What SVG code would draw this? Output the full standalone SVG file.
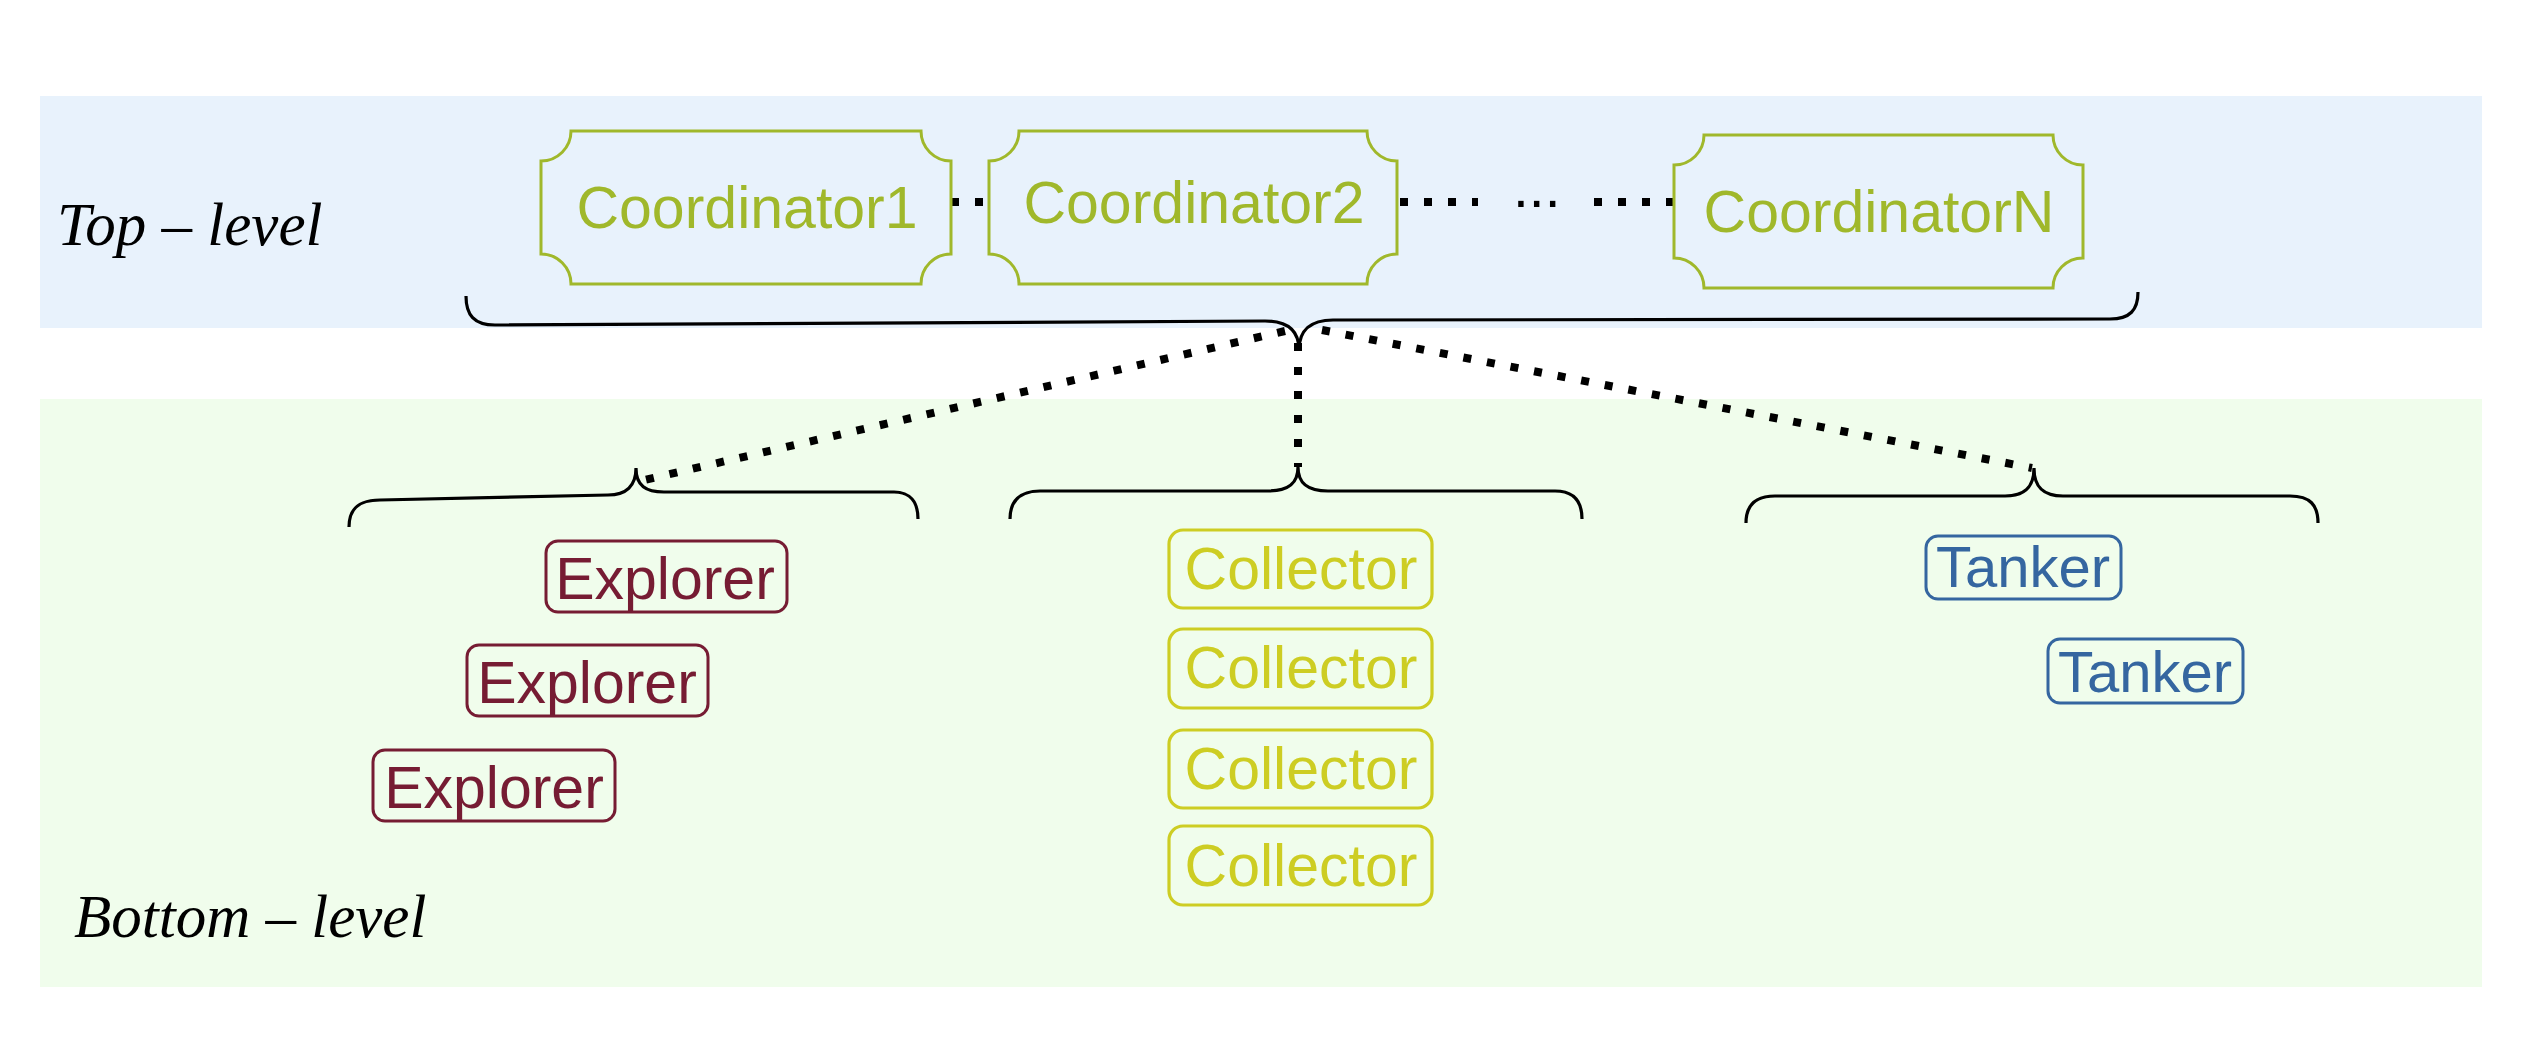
<svg xmlns="http://www.w3.org/2000/svg" width="2524" height="1040" viewBox="0 0 2524 1040">
<style>
.lvl{font-family:"Liberation Serif","DejaVu Serif",serif;font-style:italic;font-size:61px;fill:#000}
.nt{font-family:"Liberation Sans",Arial,sans-serif;font-size:59px;text-anchor:middle}
.coord{fill:none;stroke:#a0b82b;stroke-width:3}
.coordt{fill:#a0b82b}
.exp{fill:none;stroke:#761c33;stroke-width:3}
.expt{fill:#761c33}
.col{fill:none;stroke:#cdcd23;stroke-width:3.2}
.colt{fill:#cdcd23}
.tan{fill:none;stroke:#3566a0;stroke-width:3}
.tant{fill:#3566a0;font-size:58px}
.brace{fill:none;stroke:#000;stroke-width:3.2;stroke-linecap:butt}
.dot{fill:none;stroke:#000;stroke-width:8;stroke-dasharray:8 16}
</style>
<rect x="0" y="0" width="2524" height="1040" fill="#fff"/>
<g id="band-top"><rect x="40" y="96" width="2442" height="232" fill="#e8f2fc"/>
<text class="lvl" x="57" y="245">Top – level</text></g>
<g id="band-bottom"><rect x="40" y="399" width="2442" height="588" fill="#f0fdec"/>
<text class="lvl" x="74" y="937">Bottom – level</text></g>

<g id="connectors">
<path class="dot" d="M951 202 H989"/>
<path class="dot" d="M1400 202 H1478"/>
<path class="dot" d="M1594 202 H1674"/>
<path class="dot" d="M1285 331 L640 481"/>
<path class="dot" d="M1298 343 V467"/>
<path class="dot" d="M1322 330 L2032 468"/>
<text x="1513" y="207" font-family="Liberation Sans, Arial, sans-serif" font-size="57" fill="#000">...</text>
<path class="brace" d="M466 296 C466 315 474 325 495 325 L1265 321 C1287 321 1299 330 1299 350 M1299 350 C1299 330 1311 320 1333 320 L2110 319 C2130 319 2138 310 2138 292"/>
<path class="brace" d="M349 527 C349 509 358 500 380 500 L608 495 C626 495 636 486 636 468 C636 486 646 492 664 492 L894 492 C910 492 918 502 918 519"/>
<path class="brace" d="M1010 519 C1010 501 1020 491 1040 491 L1268 491 C1288 491 1298 484 1298 467 C1298 484 1308 491 1328 491 L1555 491 C1574 491 1582 501 1582 519"/>
<path class="brace" d="M1746 523 C1746 505 1756 496 1775 496 L2005 496 C2024 496 2034 488 2034 468 C2034 488 2044 496 2063 496 L2290 496 C2310 496 2318 505 2318 523"/>
</g>

<g id="coordinator1">
<path class="coord" d="M571 131 H921 A30 30 0 0 0 951 161 V254 A30 30 0 0 0 921 284 H571 A30 30 0 0 0 541 254 V161 A30 30 0 0 0 571 131 Z"/>
<text class="nt coordt" x="747" y="228">Coordinator1</text></g>
<g id="coordinator2">
<path class="coord" d="M1019 131 H1367 A30 30 0 0 0 1397 161 V254 A30 30 0 0 0 1367 284 H1019 A30 30 0 0 0 989 254 V161 A30 30 0 0 0 1019 131 Z"/>
<text class="nt coordt" x="1194" y="223">Coordinator2</text></g>
<g id="coordinatorN">
<path class="coord" d="M1704 135 H2053 A30 30 0 0 0 2083 165 V258 A30 30 0 0 0 2053 288 H1704 A30 30 0 0 0 1674 258 V165 A30 30 0 0 0 1704 135 Z"/>
<text class="nt coordt" x="1879" y="232">CoordinatorN</text></g>

<g id="explorer1"><rect class="exp" x="546" y="541" width="241" height="71" rx="12"/><text class="nt expt" x="665" y="599">Explorer</text></g>
<g id="explorer2"><rect class="exp" x="467" y="645" width="241" height="71" rx="12"/><text class="nt expt" x="587" y="703">Explorer</text></g>
<g id="explorer3"><rect class="exp" x="373" y="750" width="242" height="71" rx="12"/><text class="nt expt" x="494" y="808">Explorer</text></g>

<g id="collector1"><rect class="col" x="1169" y="530" width="263" height="78" rx="14"/><text class="nt colt" x="1301" y="589">Collector</text></g>
<g id="collector2"><rect class="col" x="1169" y="629" width="263" height="79" rx="14"/><text class="nt colt" x="1301" y="688">Collector</text></g>
<g id="collector3"><rect class="col" x="1169" y="730" width="263" height="78" rx="14"/><text class="nt colt" x="1301" y="789">Collector</text></g>
<g id="collector4"><rect class="col" x="1169" y="826" width="263" height="79" rx="14"/><text class="nt colt" x="1301" y="886">Collector</text></g>

<g id="tanker1"><rect class="tan" x="1926" y="536" width="195" height="63" rx="12"/><text class="nt tant" x="2023" y="587">Tanker</text></g>
<g id="tanker2"><rect class="tan" x="2048" y="639" width="195" height="64" rx="12"/><text class="nt tant" x="2145" y="692">Tanker</text></g>
</svg>
